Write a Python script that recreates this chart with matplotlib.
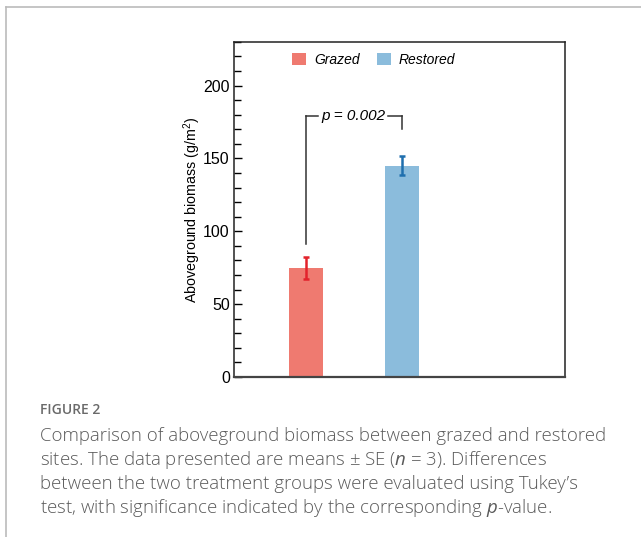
import matplotlib.pyplot as plt
from matplotlib.patches import Patch
from matplotlib.lines import Line2D
from matplotlib.ticker import MultipleLocator

plt.rcParams['font.family'] = ['Liberation Sans', 'DejaVu Sans']
plt.rcParams['mathtext.fontset'] = 'custom'
plt.rcParams['mathtext.rm'] = 'Liberation Sans'
plt.rcParams['mathtext.it'] = 'Liberation Sans:italic'

groups = ['Grazed', 'Restored']
means = [75, 145]
se = [7.5, 6.5]
bar_colors = ['#ef7a70', '#8bbcdc']
err_colors = ['#e3222b', '#1f6fae']
p_text = 'p = 0.002'

fig = plt.figure(figsize=(6.41, 5.37), dpi=100)
ax = fig.add_axes([0.365, 0.298, 0.516, 0.624])

xpos = [0, 1]
for x, m, s, bc, ec in zip(xpos, means, se, bar_colors, err_colors):
    ax.bar(x, m, width=0.355, color=bc, zorder=2)
    ax.errorbar(x, m, yerr=s, color=ec, lw=1.8, capsize=2.2, capthick=1.8, zorder=3)

# significance bracket
ytop = 179
ax.plot([0, 0], [means[0] + 16.5, ytop], color='#333333', lw=1.1)
ax.plot([1, 1], [170, ytop], color='#333333', lw=1.1)
ax.plot([0, 0.13], [ytop, ytop], color='#333333', lw=1.1)
ax.plot([0.86, 1], [ytop, ytop], color='#333333', lw=1.1)
ax.text(0.495, ytop, p_text, ha='center', va='center', style='italic', fontsize=11)

ax.set_xlim(-0.75, 2.70)
ax.set_ylim(0, 230)
ax.set_xticks([])
ax.yaxis.set_major_locator(MultipleLocator(50))
ax.yaxis.set_minor_locator(MultipleLocator(10))
ax.tick_params(axis='y', which='major', direction='in', length=6, width=1, labelsize=11.5, pad=3)
ax.tick_params(axis='y', which='minor', direction='in', length=5, width=1)
ax.set_ylabel('Aboveground biomass (g/m$^2$)', fontsize=10.3, labelpad=0)
for sp in ax.spines.values():
    sp.set_color('#222222')
    sp.set_linewidth(1.1)
ax.spines['bottom'].set_color('#444444')
ax.spines['bottom'].set_linewidth(1.6)

handles = [Patch(facecolor=c, edgecolor='none') for c in bar_colors]
leg = ax.legend(handles, groups, loc='center', bbox_to_anchor=(0.423, 0.946), ncol=2,
                frameon=False, handlelength=1.0, handleheight=1.0, handletextpad=0.6,
                columnspacing=1.2, prop={'style': 'italic', 'size': 10})

# page frame
fig.add_artist(Line2D([6 / 641, 1], [1 - 7 / 537, 1 - 7 / 537], color='#bbbbbb', lw=1.2))
fig.add_artist(Line2D([6 / 641, 6 / 641], [0, 1 - 7 / 537], color='#bbbbbb', lw=1.2))

cap_font = ['Open Sans', 'DejaVu Sans']
fig.text(40 / 641, 1 - 410 / 537, 'FIGURE 2', fontsize=10, color='#6a6a6a',
         family=cap_font, weight='semibold', va='center')
caption = [
    'Comparison of aboveground biomass between grazed and restored',
    'sites. The data presented are means \u00b1 SE ($\\it{n}$ = 3). Differences',
    'between the two treatment groups were evaluated using Tukey\u2019s',
    'test, with significance indicated by the corresponding $\\it{p}$-value.',
]
plt.rcParams['mathtext.it'] = 'Open Sans:italic'
for i, line in enumerate(caption):
    fig.text(40 / 641, 1 - (436 + 24 * i) / 537, line, fontsize=13.4, color='#5a5a5a',
             family=cap_font, weight='light', va='center')

fig.savefig('out.png', dpi=100)
